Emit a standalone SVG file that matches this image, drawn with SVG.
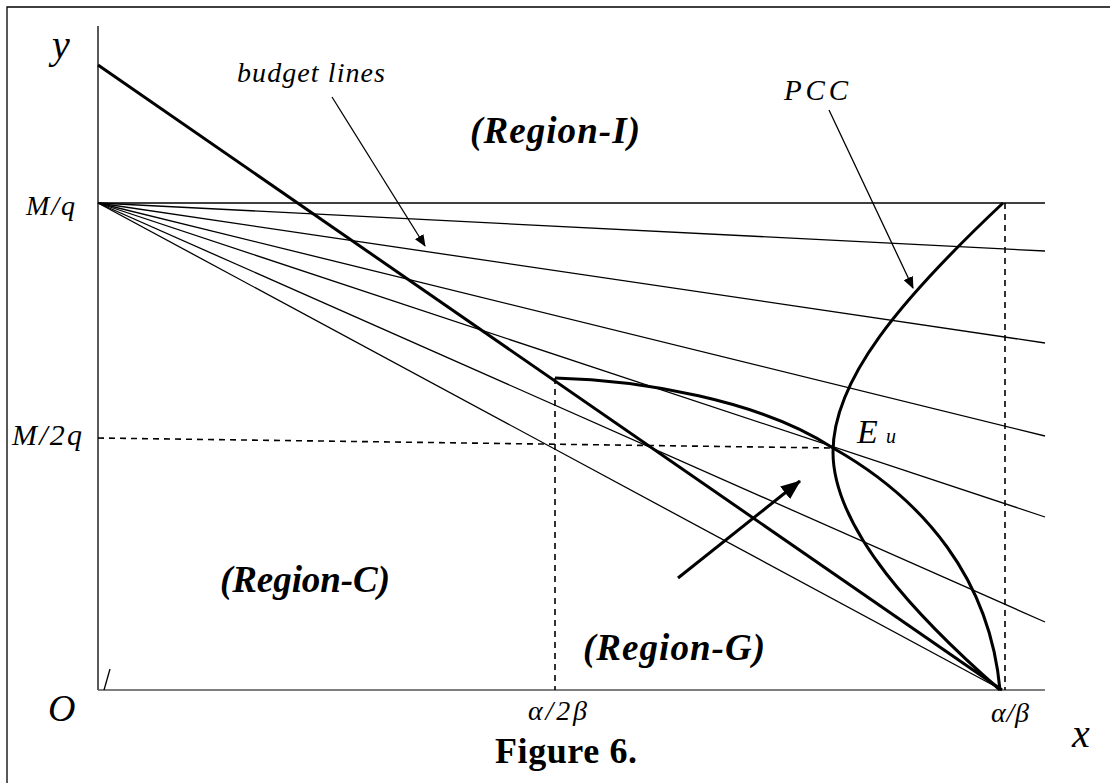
<svg xmlns="http://www.w3.org/2000/svg" width="1110" height="783" viewBox="0 0 1110 783">
<style>
.thin{fill:none;stroke:#000;stroke-width:1.3}
.thick{fill:none;stroke:#000;stroke-width:3}
.dash{fill:none;stroke:#000;stroke-width:1.6;stroke-dasharray:6 5}
.it{font-family:"Liberation Serif","Times New Roman",serif;font-style:italic;fill:#000}
.bi{font-family:"Liberation Serif","Times New Roman",serif;font-style:italic;font-weight:bold;fill:#000}
.b{font-family:"Liberation Serif","Times New Roman",serif;font-weight:bold;fill:#000}
</style>
<defs>
<marker id="ah" markerUnits="userSpaceOnUse" markerWidth="12" markerHeight="10" refX="11" refY="5" orient="auto"><path d="M0,0 L12,5 L0,10 Z" fill="#000"/></marker>
<marker id="ahb" markerUnits="userSpaceOnUse" markerWidth="20" markerHeight="16" refX="19" refY="8" orient="auto"><path d="M0,0 L20,8 L0,16 Z" fill="#000"/></marker>
</defs>
<path d="M7,783 V7 H1110" class="thin"/>
<g id="axes">
<line x1="98" y1="26" x2="98" y2="690" class="thin"/>
<line x1="98" y1="690" x2="1045" y2="690" fill="none" stroke="#555" stroke-width="1.6"/>
<line x1="110" y1="669" x2="104" y2="690" class="thin"/>
</g>
<g id="budget-lines">
<line x1="98" y1="203" x2="1045" y2="203" class="thin"/>
<line x1="98" y1="203" x2="1045" y2="251" class="thin"/>
<line x1="98" y1="203" x2="1045" y2="343" class="thin"/>
<line x1="98" y1="203" x2="1045" y2="436" class="thin"/>
<line x1="98" y1="203" x2="1045" y2="517" class="thin"/>
<line x1="98" y1="203" x2="1045" y2="622" class="thin"/>
<line x1="98" y1="203" x2="1002" y2="690" class="thin"/>
</g>
<g id="thick-line">
<line x1="98" y1="65" x2="1002" y2="690" class="thick"/>
</g>
<g id="region-g-boundary">
<path d="M555,378 C640,380 760,400 833,448 C925,500 990,580 1000,690" class="thick"/>
</g>
<g id="pcc-curve">
<path d="M1003,203 C900,300 833,380 833,452 C833,530 920,620 1000,690" class="thick"/>
</g>
<g id="guides">
<line x1="98" y1="438" x2="833" y2="448" class="dash"/>
<line x1="555" y1="378" x2="555" y2="690" class="dash"/>
<line x1="1005" y1="203" x2="1005" y2="690" class="dash"/>
</g>
<g id="connectors">
<line x1="332" y1="97" x2="425" y2="246" class="thin" marker-end="url(#ah)"/>
<line x1="829" y1="110" x2="913" y2="288" class="thin" marker-end="url(#ah)"/>
<line x1="678" y1="578" x2="800" y2="481" class="thick" marker-end="url(#ahb)"/>
</g>
<g id="labels">
<text class="it" x="52" y="58" font-size="40">y</text>
<text class="it" x="237" y="82" font-size="28" textLength="148" lengthAdjust="spacing">budget lines</text>
<text class="bi" x="470" y="143" font-size="37" textLength="170" lengthAdjust="spacing">(Region-I)</text>
<text class="it" x="784" y="100" font-size="29" textLength="64" lengthAdjust="spacing">PCC</text>
<text class="it" x="26" y="215" font-size="28" textLength="49" lengthAdjust="spacing">M/q</text>
<text class="it" x="12" y="445" font-size="30" textLength="70" lengthAdjust="spacing">M/2q</text>
<text class="it" x="857" y="443" font-size="34">E</text>
<text class="it" x="886" y="443" font-size="20">u</text>
<text class="bi" x="220" y="592" font-size="37" textLength="170" lengthAdjust="spacing">(Region-C)</text>
<text class="bi" x="583" y="660" font-size="37" textLength="182" lengthAdjust="spacing">(Region-G)</text>
<text class="it" x="48" y="721" font-size="38">O</text>
<text class="it" x="528" y="720" font-size="28" textLength="59" lengthAdjust="spacing">α/2β</text>
<text class="it" x="991" y="722" font-size="28" textLength="38" lengthAdjust="spacing">α/β</text>
<text class="it" x="1072" y="747" font-size="40">x</text>
<text class="b" x="495" y="763" font-size="36" textLength="142" lengthAdjust="spacing">Figure 6.</text>
</g>
</svg>
